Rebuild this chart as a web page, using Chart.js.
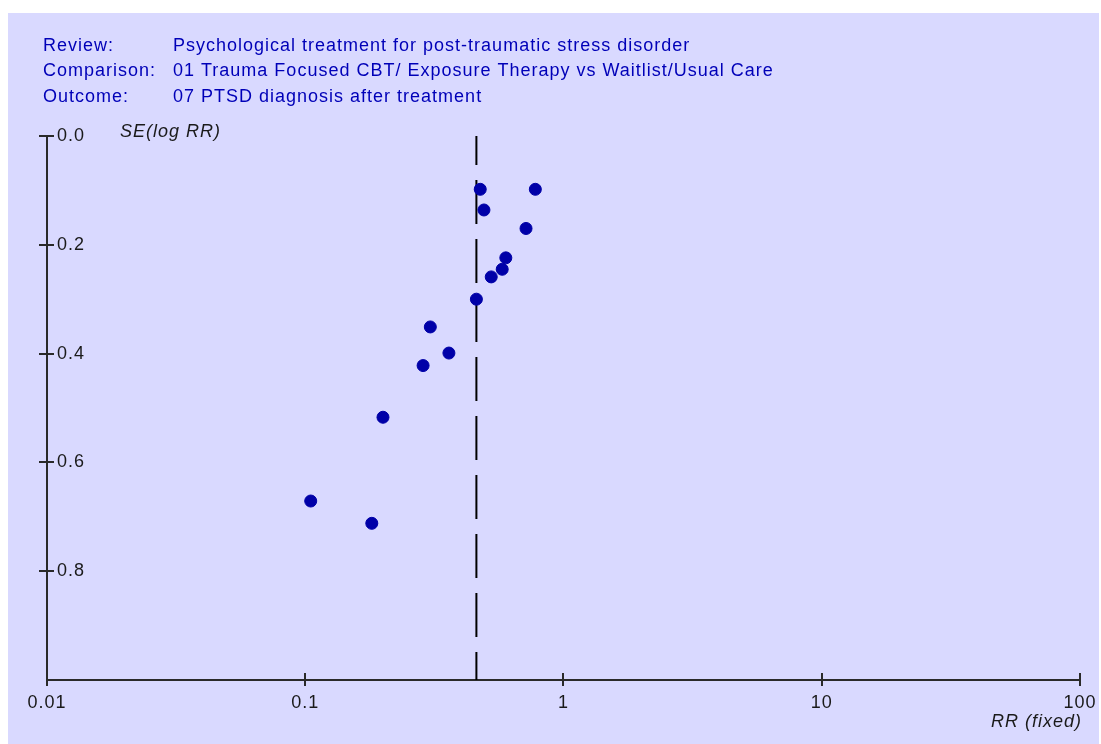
<!DOCTYPE html>
<html>
<head>
<meta charset="utf-8">
<script src="https://cdn.jsdelivr.net/npm/chart.js@4"></script>
<style>
  html, body { margin: 0; padding: 0; background: #ffffff; }
  #wrap { position: absolute; left: 0; top: 0; width: 1101px; height: 744px; }
</style>
</head>
<body>
<div id="wrap"><canvas id="c" width="1101" height="744"></canvas></div>
<script>
// ---- data ----
const studyRR = [0.476, 0.778, 0.492, 0.716, 0.598, 0.579, 0.525, 0.460, 0.305, 0.360, 0.286, 0.200, 0.105, 0.181];
const studySE = [0.098, 0.098, 0.136, 0.170, 0.224, 0.245, 0.259, 0.300, 0.351, 0.399, 0.422, 0.517, 0.671, 0.712];
const pooledRR = 0.46;
const xTickValues = [0.01, 0.1, 1, 10, 100];
const xTickLabels = ['0.01', '0.1', '1', '10', '100'];
const yTickValues = [0.0, 0.2, 0.4, 0.6, 0.8];
const headerLabels = ['Review:', 'Comparison:', 'Outcome:'];
const headerTexts = [
  'Psychological treatment for post-traumatic stress disorder',
  '01 Trauma Focused CBT/ Exposure Therapy vs Waitlist/Usual Care',
  '07 PTSD diagnosis after treatment'
];
const yAxisTitle = 'SE(log RR)';
const xAxisTitle = 'RR (fixed)';

const BG = 'rgb(217,217,255)';
const BLUE = '#0000A8';
const HEAD = '#0000B8';
const AXIS = '#2a2a2a';
const FONT = '"Liberation Sans", Arial, sans-serif';

const bgPlugin = {
  id: 'bg',
  beforeDraw(chart) {
    const ctx = chart.ctx;
    ctx.save();
    ctx.fillStyle = '#ffffff';
    ctx.fillRect(0, 0, chart.width, chart.height);
    ctx.fillStyle = BG;
    ctx.fillRect(8, 13, 1091, 731);
    ctx.restore();
    ctx.letterSpacing = '1px';
  }
};

const textPlugin = {
  id: 'texts',
  afterDraw(chart) {
    const ctx = chart.ctx;
    ctx.save();
    ctx.letterSpacing = '1px';
    ctx.fillStyle = HEAD;
    ctx.font = '18px ' + FONT;
    ctx.textBaseline = 'middle';
    ctx.textAlign = 'left';
    const ys = [46, 71, 97];
    headerLabels.forEach((l, i) => ctx.fillText(l, 43, ys[i]));
    headerTexts.forEach((t, i) => ctx.fillText(t, 173, ys[i]));
    ctx.fillStyle = '#1a1a1a';
    ctx.font = 'italic 18px ' + FONT;
    ctx.fillText(yAxisTitle, 120, 132);
    ctx.textAlign = 'right';
    ctx.fillText(xAxisTitle, 1082, 722);
    // inner halves of tick marks (crossing the axes)
    const xs = chart.scales.x, yS = chart.scales.y;
    ctx.strokeStyle = AXIS;
    ctx.lineWidth = 2;
    ctx.beginPath();
    yS.ticks.forEach(t => {
      const py = Math.round(yS.getPixelForValue(t.value));
      ctx.moveTo(xs.left, py);
      ctx.lineTo(xs.left + 7, py);
    });
    xs.ticks.forEach(t => {
      const px = Math.round(xs.getPixelForValue(t.value));
      ctx.moveTo(px, yS.bottom);
      ctx.lineTo(px, yS.bottom - 7);
    });
    ctx.stroke();
    ctx.restore();
  }
};

const points = studyRR.map((r, i) => ({ x: r, y: studySE[i] }));

new Chart(document.getElementById('c'), {
  type: 'scatter',
  data: {
    datasets: [
      {
        type: 'line',
        data: [{ x: pooledRR, y: 0 }, { x: pooledRR, y: 1 }],
        borderColor: '#000000',
        borderWidth: 2,
        borderDash: [44, 15],
        borderDashOffset: 15,
        pointRadius: 0,
        fill: false,
        order: 2
      },
      {
        data: points,
        backgroundColor: BLUE,
        borderColor: BLUE,
        borderWidth: 1,
        pointRadius: 6,
        order: 1
      }
    ]
  },
  options: {
    responsive: false,
    animation: false,
    events: [],
    layout: { padding: { left: 0, top: 136, right: 19, bottom: 0 } },
    plugins: { legend: { display: false }, tooltip: { enabled: false }, title: { display: false } },
    scales: {
      x: {
        type: 'logarithmic',
        min: 0.01,
        max: 100,
        afterBuildTicks(scale) { scale.ticks = xTickValues.map(v => ({ value: v })); },
        afterFit(scale) { scale.height = 64; },
        border: { display: true, color: AXIS, width: 2 },
        grid: { drawOnChartArea: false, drawTicks: true, tickLength: 6, color: AXIS, lineWidth: 2 },
        ticks: {
          autoSkip: false,
          maxRotation: 0,
          padding: 6,
          color: '#1a1a1a',
          font: { family: FONT, size: 18 },
          callback(v) { const i = xTickValues.indexOf(v); return i >= 0 ? xTickLabels[i] : ''; }
        }
      },
      y: {
        type: 'linear',
        reverse: true,
        min: 0,
        max: 1,
        afterBuildTicks(scale) { scale.ticks = yTickValues.map(v => ({ value: v })); },
        afterFit(scale) { scale.width = 47; },
        border: { display: true, color: AXIS, width: 2 },
        grid: { drawOnChartArea: false, drawTicks: true, tickLength: 8, color: AXIS, lineWidth: 2 },
        ticks: {
          mirror: true,
          padding: 10,
          color: '#1a1a1a',
          font: { family: FONT, size: 18 },
          callback(v) { return Number(v).toFixed(1); }
        }
      }
    }
  },
  plugins: [bgPlugin, textPlugin]
});
</script>
</body>
</html>
